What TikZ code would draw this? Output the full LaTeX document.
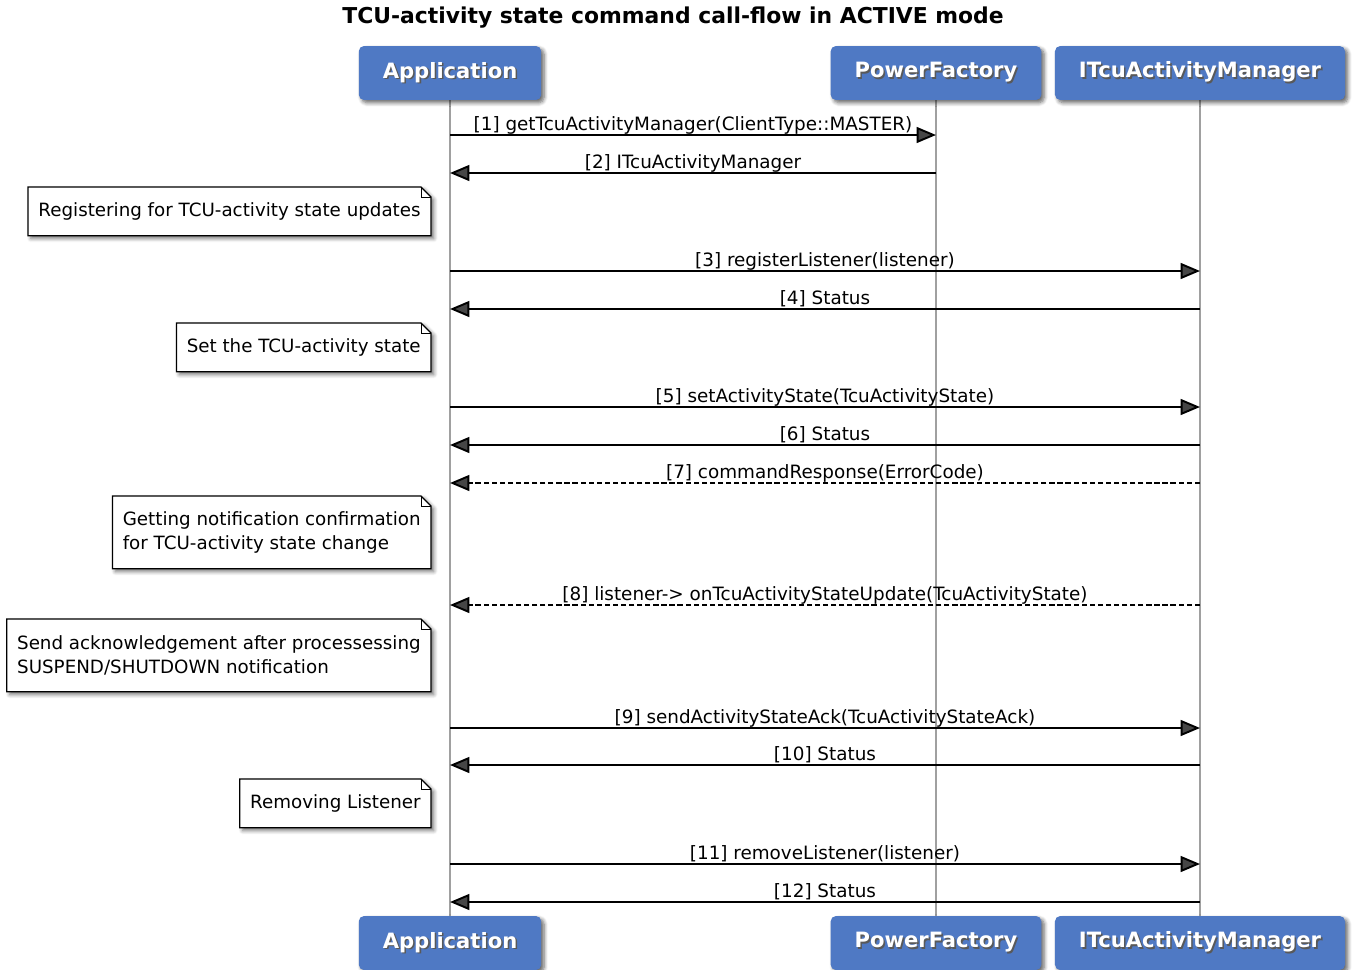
\documentclass[tikz,border=0pt]{standalone}
\usepackage{fontspec}
\setmainfont{DejaVu Sans}
\usetikzlibrary{arrows.meta,shadows.blur,backgrounds}
\definecolor{seqActorBlue}{HTML}{4F79C4}
\definecolor{seqLifeGray}{HTML}{A0A0A0}
\newcommand{\actortext}[1]{\makebox[0pt][l]{\raisebox{-0.9pt}{\hspace{0.9pt}\textcolor{black!65}{#1}}}#1}
\tikzset{
    actorbox/.style={rounded corners=3pt, fill=seqActorBlue, text=white, font=\fontsize{12}{14}\selectfont\bfseries, minimum height=1.08cm, inner xsep=0.48cm, blur shadow={shadow xshift=1.6pt, shadow yshift=-1.6pt, shadow blur steps=6, shadow opacity=60}},
    lifeline/.style={draw=seqLifeGray, line width=1.1pt},
    callline/.style={-{Triangle[length=11pt, width=9pt]}, line width=1.1pt},
    asyncline/.style={callline, dash pattern=on 3pt off 1.6pt},
    msglabel/.style={font=\fontsize{10.45}{12}\selectfont, anchor=base, yshift=2.4pt, inner sep=0pt},
    notebox/.style={anchor=north east, align=left, font=\fontsize{10.4}{13.6}\selectfont, inner xsep=0.2cm, minimum height=0.96cm},
    noteshape/.style={draw=black, line width=0.7pt, fill=white, blur shadow={shadow xshift=1.6pt, shadow yshift=-1.6pt, shadow blur steps=5, shadow opacity=55}}
}
\begin{document}
\begin{tikzpicture}[x=0.02cm, y=-0.02cm, line cap=butt, line join=miter]
            \useasboundingbox (0,0) rectangle (1360,970);

            \node[font=\fontsize{12.45}{14}\selectfont\bfseries] (title) at (673,18) {TCU-activity state command call-flow in ACTIVE mode};

            \node[actorbox] (app) at (450,73) {\actortext{Application}};
            \node[actorbox] (pf) at (936,73) {\actortext{PowerFactory}};
            \node[actorbox] (mgr) at (1200,73) {\actortext{ITcuActivityManager}};
            \node[actorbox] (appB) at (450,943) {\actortext{Application}};
            \node[actorbox] (pfB) at (936,943) {\actortext{PowerFactory}};
            \node[actorbox] (mgrB) at (1200,943) {\actortext{ITcuActivityManager}};

            \coordinate (r1) at (0,135);
            \coordinate (r2) at (0,173);
            \coordinate (r3) at (0,271);
            \coordinate (r4) at (0,309);
            \coordinate (r5) at (0,407);
            \coordinate (r6) at (0,445);
            \coordinate (r7) at (0,483);
            \coordinate (r8) at (0,605);
            \coordinate (r9) at (0,728);
            \coordinate (r10) at (0,765);
            \coordinate (r11) at (0,864);
            \coordinate (r12) at (0,902);

            \node[notebox] (n1) at (431,187) {Registering for TCU-activity state updates};
            \node[notebox] (n2) at (431,323) {Set the TCU-activity state};
            \node[notebox, minimum height=1.44cm] (n3) at (431,496) {Getting notification confirmation\\for TCU-activity state change};
            \node[notebox, minimum height=1.44cm] (n4) at (431,619) {Send acknowledgement after processessing\\SUSPEND/SHUTDOWN notification};
            \node[notebox] (n5) at (431,779) {Removing Listener};

            \begin{pgfonlayer}{background}
                \draw[lifeline] (app.south) -- (appB.north);
                \draw[lifeline] (pf.south) -- (pfB.north);
                \draw[lifeline] (mgr.south) -- (mgrB.north);
                \foreach \n in {n1,n2,n3,n4,n5} {
                    \draw[noteshape] (\n.north west) -- ([xshift=-0.2cm]\n.north east) -- ([yshift=-0.2cm]\n.north east) -- (\n.south east) -- (\n.south west) -- cycle;
                    \draw[line width=0.5pt] ([xshift=-0.2cm]\n.north east) |- ([yshift=-0.2cm]\n.north east);
                }
            \end{pgfonlayer}

            \draw[callline] (app |- r1) -- (pf |- r1) node[msglabel, midway] {[1] getTcuActivityManager(ClientType::MASTER)};
            \draw[callline] (pf |- r2) -- (app |- r2) node[msglabel, midway] {[2] ITcuActivityManager};
            \draw[callline] (app |- r3) -- (mgr |- r3) node[msglabel, midway] {[3] registerListener(listener)};
            \draw[callline] (mgr |- r4) -- (app |- r4) node[msglabel, midway] {[4] Status};
            \draw[callline] (app |- r5) -- (mgr |- r5) node[msglabel, midway] {[5] setActivityState(TcuActivityState)};
            \draw[callline] (mgr |- r6) -- (app |- r6) node[msglabel, midway] {[6] Status};
            \draw[asyncline] (mgr |- r7) -- (app |- r7) node[msglabel, midway] {[7] commandResponse(ErrorCode)};
            \draw[asyncline] (mgr |- r8) -- (app |- r8) node[msglabel, midway] {[8] listener-> onTcuActivityStateUpdate(TcuActivityState)};
            \draw[callline] (app |- r9) -- (mgr |- r9) node[msglabel, midway] {[9] sendActivityStateAck(TcuActivityStateAck)};
            \draw[callline] (mgr |- r10) -- (app |- r10) node[msglabel, midway] {[10] Status};
            \draw[callline] (app |- r11) -- (mgr |- r11) node[msglabel, midway] {[11] removeListener(listener)};
            \draw[callline] (mgr |- r12) -- (app |- r12) node[msglabel, midway] {[12] Status};
        \end{tikzpicture}
\end{document}
